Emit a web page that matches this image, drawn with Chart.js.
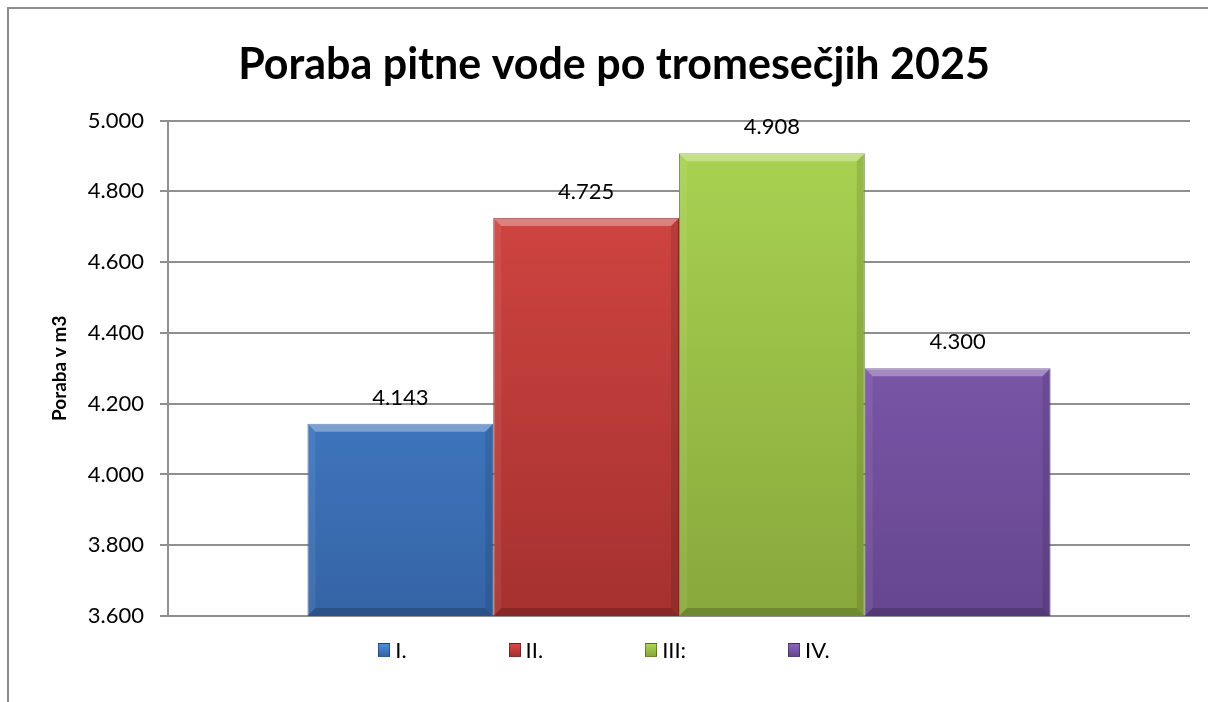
<!DOCTYPE html>
<html>
<head>
<meta charset="utf-8">
<script src="https://cdn.jsdelivr.net/npm/chart.js@4.4.0/dist/chart.umd.min.js"></script>
<style>
  body { margin: 0; background: #fff; overflow: hidden; }
  #wrap { position: relative; width: 1208px; height: 702px; overflow: hidden; }
  #okvir { position: absolute; left: 7px; top: 7px; width: 1300px; height: 800px;
           border-left: 2px solid #8c8c8c; border-top: 2px solid #8c8c8c; }
  #graf { position: absolute; left: 0; top: 0; }
  #legenda { position: absolute; left: 0; top: 636px; width: 1208px; display: flex;
             justify-content: center; font-family: Lato, "Open Sans", sans-serif; font-size: 22px; color: #000; }
  .item { display: flex; align-items: center; margin: 0 51px; }
  .kvad { width: 12px; height: 14px; margin-right: 5px; box-sizing: border-box; border: 1px solid rgba(0,0,0,0.35); }
</style>
</head>
<body>
<div id="wrap">
  <div id="okvir"></div>
  <canvas id="graf" width="1208" height="702"></canvas>
  <div id="legenda"></div>
</div>
<script>
// podatki
const tromesecja = ["I.", "II.", "III:", "IV."];
const poraba = [4143, 4725, 4908, 4300];
const barveZgoraj = ["#4b8ede", "#d84844", "#aad452", "#8b65bd"];
const barveSpodaj = ["#3564a6", "#a5312f", "#88a83b", "#66468f"];
const robovi = ["#2f5a95", "#8f2a28", "#76933a", "#573d7b"];
const yMin = 3600;
const yMax = 5000;
const yKorak = 200;

function formatSt(v) {
  return String(v).replace(/\B(?=(\d{3})+(?!\d))/g, ".");
}

function gradient(i) {
  return function (ctx) {
    const area = ctx.chart.chartArea;
    if (!area) return barveZgoraj[i];
    const g = ctx.chart.ctx.createLinearGradient(0, area.top, 0, area.bottom);
    g.addColorStop(0, barveZgoraj[i]);
    g.addColorStop(1, barveSpodaj[i]);
    return g;
  };
}

// bevel + vrednosti nad stolpci
const stolpciPlugin = {
  id: "stolpci",
  afterDatasetsDraw(chart) {
    const ctx = chart.ctx;
    chart.data.datasets.forEach((ds, i) => {
      const bar = chart.getDatasetMeta(i).data[0];
      if (!bar) return;
      const l = bar.x - bar.width / 2;
      const r = bar.x + bar.width / 2;
      const t = bar.y;
      const b = Math.min(bar.base, chart.chartArea.bottom);
      const s = 8;
      ctx.save();
      // zgoraj svetlo
      ctx.fillStyle = "rgba(255,255,255,0.32)";
      ctx.beginPath();
      ctx.moveTo(l, t); ctx.lineTo(r, t); ctx.lineTo(r - s, t + s); ctx.lineTo(l + s, t + s);
      ctx.closePath(); ctx.fill();
      // levo
      ctx.fillStyle = "rgba(255,255,255,0.07)";
      ctx.beginPath();
      ctx.moveTo(l, t); ctx.lineTo(l + s, t + s); ctx.lineTo(l + s, b - s); ctx.lineTo(l, b);
      ctx.closePath(); ctx.fill();
      // desno
      ctx.fillStyle = "rgba(0,0,0,0.10)";
      ctx.beginPath();
      ctx.moveTo(r, t); ctx.lineTo(r - s, t + s); ctx.lineTo(r - s, b - s); ctx.lineTo(r, b);
      ctx.closePath(); ctx.fill();
      // spodaj temno
      ctx.fillStyle = "rgba(0,0,0,0.18)";
      ctx.beginPath();
      ctx.moveTo(l, b); ctx.lineTo(r, b); ctx.lineTo(r - s, b - s); ctx.lineTo(l + s, b - s);
      ctx.closePath(); ctx.fill();

      ctx.fillStyle = "#000";
      ctx.font = "22px Lato, 'Open Sans', sans-serif";
      ctx.textAlign = "center";
      ctx.textBaseline = "middle";
      ctx.fillText(formatSt(ds.data[0]), bar.x, t - 26);
      ctx.restore();
    });
  },
};

const datasets = tromesecja.map((t, i) => ({
  label: t,
  data: [poraba[i]],
  backgroundColor: gradient(i),
  borderColor: robovi[i],
  borderWidth: 1,
  barPercentage: 1,
  categoryPercentage: 0.727,
}));

new Chart(document.getElementById("graf"), {
  type: "bar",
  data: { labels: [""], datasets: datasets },
  options: {
    responsive: false,
    animation: false,
    layout: { padding: { left: 38, right: 18, top: 14, bottom: 86 } },
    plugins: {
      legend: { display: false },
      tooltip: { enabled: false },
      title: {
        display: true,
        text: "Poraba pitne vode po tromesečjih 2025",
        color: "#000",
        font: { family: "Lato, 'Open Sans', sans-serif", size: 43, weight: "bold" },
        padding: { top: 25, bottom: 30 },
      },
    },
    scales: {
      x: { display: false },
      y: {
        min: yMin,
        max: yMax,
        afterFit: (scale) => { scale.width = 130; },
        ticks: {
          stepSize: yKorak,
          color: "#000",
          padding: 16,
          font: { family: "Lato, 'Open Sans', sans-serif", size: 22 },
          callback: (v) => formatSt(v),
        },
        grid: { color: "#8f8f8f", lineWidth: 2, tickLength: 8, tickColor: "#8f8f8f" },
        border: { color: "#8f8f8f", width: 2 },
        title: {
          display: true,
          text: "Poraba v m3",
          color: "#000",
          font: { family: "Lato, 'Open Sans', sans-serif", size: 19, weight: "bold" },
          padding: { top: 10, bottom: 0 },
        },
      },
    },
  },
  plugins: [stolpciPlugin],
});

// legenda
const leg = document.getElementById("legenda");
tromesecja.forEach((t, i) => {
  const el = document.createElement("div");
  el.className = "item";
  el.innerHTML = `<span class="kvad" style="background:linear-gradient(${barveZgoraj[i]}, ${barveSpodaj[i]})"></span><span>${t}</span>`;
  leg.appendChild(el);
});
</script>
</body>
</html>
